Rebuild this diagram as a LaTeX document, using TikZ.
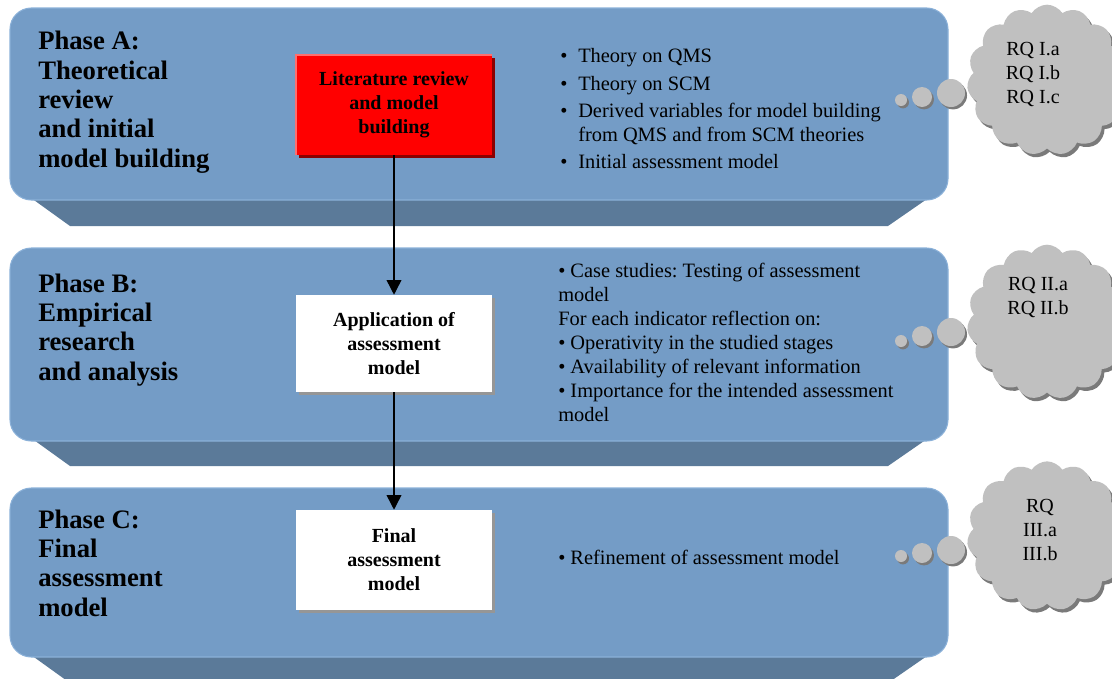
\documentclass[tikz,border=0pt]{standalone}
\usepackage{fontspec}
\setmainfont{Liberation Serif}
\usetikzlibrary{shapes.symbols,shadows,arrows.meta}
\definecolor{panelface}{RGB}{116,156,198}
\definecolor{paneledge}{RGB}{138,176,216}
\definecolor{panelband}{RGB}{91,122,153}
\definecolor{cloudgray}{RGB}{192,192,192}
\definecolor{cloudshade}{RGB}{122,122,122}
\definecolor{boxshade}{RGB}{150,150,150}
\definecolor{redshade}{RGB}{140,0,0}
\definecolor{redhl}{RGB}{255,110,110}
\newcommand\myblt{\makebox[13.5pt][l]{\textbullet}}
\newcommand\myind{\hspace*{13.5pt}}
\frenchspacing
\begin{document}
\begin{tikzpicture}[x=0.75pt,y=-0.75pt,
  face/.style={fill=panelface,draw=paneledge,line width=0.8pt,rounded corners=16pt},
  band/.style={fill=panelband},
  phase/.style={anchor=base west,inner sep=0pt,align=left,font=\fontsize{20}{22}\selectfont\bfseries},
  desc/.style={anchor=base west,inner sep=0pt,align=left,font=\fontsize{15.3}{18}\selectfont},
  boxtext/.style={align=center,inner sep=0pt,font=\fontsize{15}{18}\selectfont\bfseries,
    minimum width=147pt},
  whitebox/.style={boxtext,fill=white,
    drop shadow={shadow xshift=2.2pt,shadow yshift=-2.2pt,fill=boxshade,opacity=1}},
  redbox/.style={boxtext,fill=red,
    drop shadow={shadow xshift=2.2pt,shadow yshift=-2.2pt,fill=redshade,opacity=1}},
  arr/.style={line width=1.1pt,-{Triangle[width=11pt,length=11pt]}},
  thought/.style={cloud,cloud puffs=15,cloud puff arc=115,aspect=1.05,fill=cloudgray,inner sep=0pt,
    drop shadow={shadow xshift=2pt,shadow yshift=-2.5pt,fill=cloudshade,opacity=1}},
  bubble/.style={circle,fill=cloudgray,inner sep=0pt,
    drop shadow={shadow xshift=1.5pt,shadow yshift=-1.8pt,fill=cloudshade,opacity=1}},
  rq/.style={align=center,inner sep=0pt,font=\fontsize{15}{18}\selectfont}
]
\useasboundingbox (0,0) rectangle (1112,678);
\clip (0,0) rectangle (1112,678);

% Panel A
\fill[band] (20,190) -- (70,226) -- (888,226) -- (940,190) -- cycle;
\path[face] (10,8) rectangle (948,200);
% Panel B
\fill[band] (20,430) -- (70,466) -- (888,466) -- (940,430) -- cycle;
\path[face] (10,248) rectangle (948,441);
% Panel C
\fill[band] (20,647) -- (70,683) -- (888,683) -- (940,647) -- cycle;
\path[face] (10,488) rectangle (948,657);

% Phase labels (anchored at the baseline of their last line)
\node[phase] (phA) at (38,167.3) {Phase A:\\Theoretical\\review\\and initial\\model building};
\node[phase] (phB) at (38,380) {Phase B:\\Empirical\\research\\and analysis};
\node[phase] (phC) at (38,616) {Phase C:\\Final\\assessment\\model};

% Boxes
\node[redbox,minimum height=75pt] (lit) at (394,105) {Literature review\\and model\\building};
\draw[redhl,line width=1.5pt] (lit.south west) -- (lit.north west) -- (lit.north east);
\node[whitebox,minimum height=72.75pt] (app) at (394,343.5) {Application of\\assessment\\model};
\node[whitebox,minimum height=75pt] (fin) at (394,560) {Final\\assessment\\model};

\draw[arr] (lit.south) -- (app.north);
\draw[arr] (app.south) -- (fin.north);

% Descriptions (anchored at the baseline of their last line)
\node[desc] (dA) at (560,168.3) {\myblt Theory on QMS\\[2.5pt]
  \myblt Theory on SCM\\[2.5pt]
  \myblt Derived variables for model building\\
  \myind from QMS and from SCM theories\\[2pt]
  \myblt Initial assessment model};
\node[desc] (dB) at (558,421) {\textbullet\ Case studies: Testing of assessment\\
  model\\
  For each indicator reflection on:\\
  \textbullet\ Operativity in the studied stages\\
  \textbullet\ Availability of relevant information\\
  \textbullet\ Importance for the intended assessment\\
  model};
\node[desc] (dC) at (558,564) {\textbullet\ Refinement of assessment model};

% Thought bubbles A
\node[bubble,minimum size=9pt] (a1) at (901,100) {};
\node[bubble,minimum size=15pt] (a2) at (922,97) {};
\node[bubble,minimum size=21pt] (a3) at (951,93) {};
\node[thought,minimum width=120pt,minimum height=113pt] (cA) at (1047,80) {};
\node[rq] (rqA) at (1033,74) {RQ I.a\\RQ I.b\\RQ I.c};

% Thought bubbles B
\node[bubble,minimum size=9pt] (b1) at (901,341) {};
\node[bubble,minimum size=15pt] (b2) at (922,336) {};
\node[bubble,minimum size=21pt] (b3) at (951,332) {};
\node[thought,minimum width=120pt,minimum height=116pt] (cB) at (1047,322) {};
\node[rq] (rqB) at (1038,297) {RQ II.a\\RQ II.b};

% Thought bubbles C
\node[bubble,minimum size=9pt] (c1) at (901,556) {};
\node[bubble,minimum size=15pt] (c2) at (922,553) {};
\node[bubble,minimum size=21pt] (c3) at (951,550) {};
\node[thought,minimum width=120pt,minimum height=112pt] (cC) at (1047,536) {};
\node[rq] (rqC) at (1040,530) {RQ\\III.a\\III.b};
\end{tikzpicture}
\end{document}
